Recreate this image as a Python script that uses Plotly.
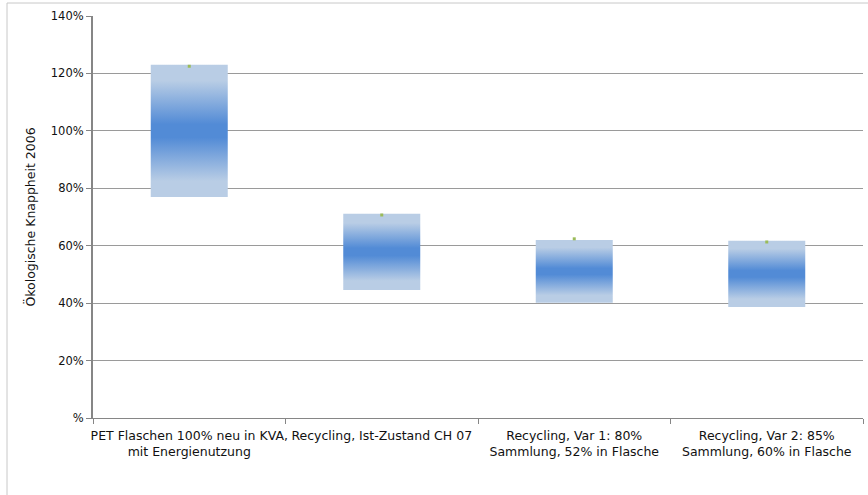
import plotly.graph_objects as go

categories = [
    "PET Flaschen 100% neu in KVA,<br>mit Energienutzung",
    "Recycling, Ist-Zustand CH 07",
    "Recycling, Var 1: 80%<br>Sammlung, 52% in Flasche",
    "Recycling, Var 2: 85%<br>Sammlung, 60% in Flasche",
]
low_values = [0.770, 0.446, 0.401, 0.387]
high_values = [1.230, 0.711, 0.620, 0.617]
mid_values = [1.225, 0.707, 0.624, 0.613]
y_tickvals = [0, 0.2, 0.4, 0.6, 0.8, 1.0, 1.2, 1.4]
y_ticktext = ["%", "20%", "40%", "60%", "80%", "100%", "120%", "140%"]

LIGHT = "#B9CDE5"
DARK = "#528BD6"
BAR_W = 0.4

fig = go.Figure()
for i, (lo, hi) in enumerate(zip(low_values, high_values)):
    x0, x1 = i - BAR_W / 2, i + BAR_W / 2
    fig.add_trace(go.Scatter(
        x=[x0, x1, x1, x0, x0],
        y=[lo, lo, hi, hi, lo],
        mode="lines",
        line=dict(width=0),
        fill="toself",
        fillgradient=dict(
            type="vertical",
            colorscale=[[0, LIGHT], [0.12, LIGHT], [0.45, DARK], [0.55, DARK],
                        [0.88, LIGHT], [1, LIGHT]],
        ),
        hoverinfo="skip",
        showlegend=False,
    ))

fig.add_trace(go.Scatter(
    x=list(range(len(categories))),
    y=mid_values,
    mode="markers",
    marker=dict(symbol="square", size=3, color="#9BBB59"),
    showlegend=False,
))

L, T, W, H = 93, 16, 770, 402

def px_x(p):
    return (p - L) / W

def px_y(p):
    return (T + H - p) / H

fig.update_layout(
    width=868, height=495,
    margin=dict(l=L, r=868 - L - W, t=T, b=495 - T - H),
    plot_bgcolor="white", paper_bgcolor="white",
    font=dict(family="DejaVu Sans", size=11, color="#111111"),
    xaxis=dict(
        range=[-0.5, 3.5],
        tickvals=list(range(len(categories))),
        ticktext=categories,
        ticks="",
        ticklabelstandoff=6,
        showgrid=False, zeroline=False,
        showline=True, linecolor="#868686", linewidth=1,
        tickfont=dict(family="DejaVu Sans", size=12.5),
        minor=dict(tickvals=[-0.5, 0.5, 1.5, 2.5, 3.5], ticks="outside",
                   ticklen=5, tickcolor="#868686", showgrid=False),
        fixedrange=True,
    ),
    yaxis=dict(
        range=[0, 1.4],
        tickvals=y_tickvals,
        ticktext=y_ticktext,
        ticks="outside", ticklen=5, tickcolor="#868686",
        showgrid=True, gridcolor="#9a9a9a", gridwidth=1,
        zeroline=False,
        showline=True, linecolor="#868686", linewidth=2,
        tickfont=dict(family="DejaVu Sans", size=11.5),
        title=dict(text="Ökologische Knappheit 2006",
                   font=dict(family="DejaVu Sans", size=12.5), standoff=12),
        fixedrange=True,
    ),
    shapes=[
        dict(type="line", xref="paper", yref="paper",
             x0=px_x(7), x1=px_x(868), y0=px_y(3), y1=px_y(3),
             line=dict(color="#c8c8c8", width=1)),
        dict(type="line", xref="paper", yref="paper",
             x0=px_x(7), x1=px_x(7), y0=px_y(3), y1=px_y(495),
             line=dict(color="#c8c8c8", width=1)),
    ],
)

fig.write_html("out.html")
